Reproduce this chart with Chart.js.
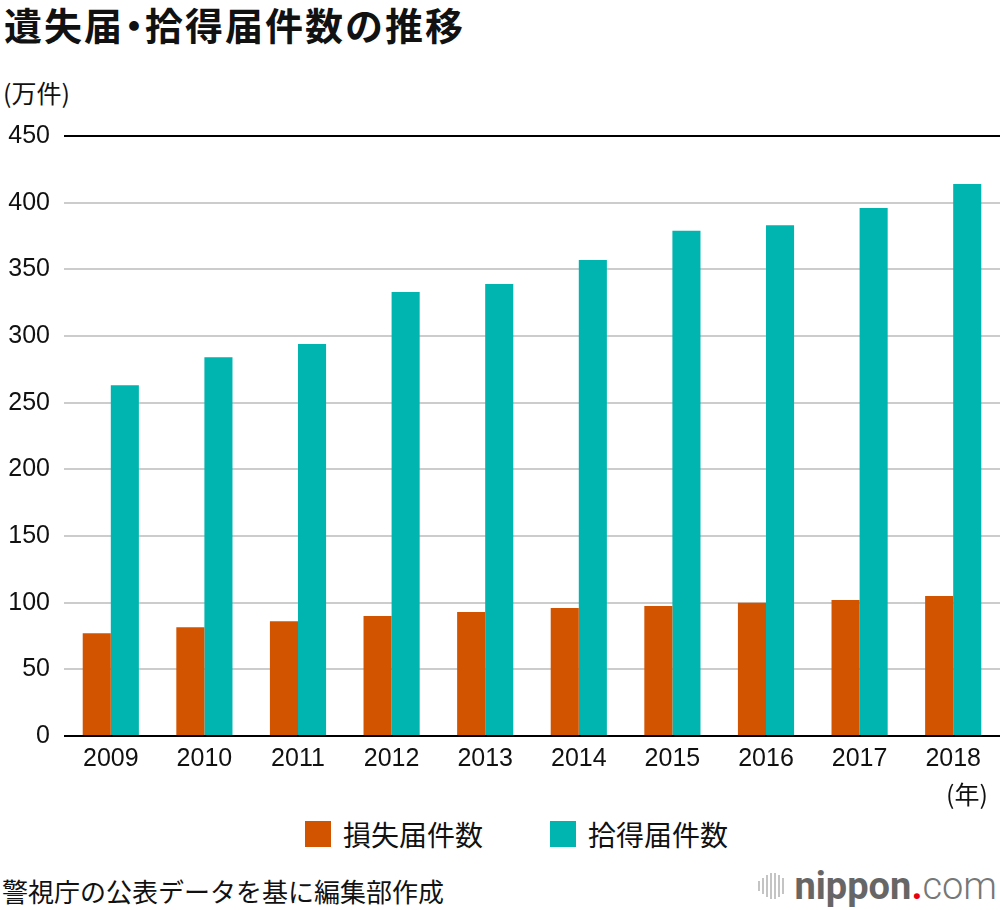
<!DOCTYPE html>
<html lang="ja">
<head>
<meta charset="utf-8">
<script src="https://cdn.jsdelivr.net/npm/chart.js@4.4.1/dist/chart.umd.min.js"></script>
<style>
  html, body { margin:0; padding:0; background:#fff; }
  body { width:1000px; height:910px; position:relative; overflow:hidden;
         font-family:"Noto Sans CJK JP","Liberation Sans",sans-serif; color:#111; }
  #title { position:absolute; left:4px; top:-4px; font-size:38px; font-weight:bold; letter-spacing:2px; white-space:nowrap; }
  #title .dot { display:inline-block; margin:0 -10px 0 -9px; }
  #unit { position:absolute; left:3px; top:74px; font-size:25px; white-space:nowrap; }
  #year { position:absolute; left:946px; top:775px; font-size:25px; white-space:nowrap; }
  #wrap { position:absolute; left:0; top:0; width:1000px; height:790px; }
  #legend { position:absolute; left:305px; top:814px; display:flex; align-items:center; }
  .li { display:flex; align-items:center; margin-right:67px; }
  .box { width:26px; height:26px; margin-right:12px; }
  .lt { font-size:28px; white-space:nowrap; }
  #src { position:absolute; left:2px; top:872px; font-size:26px; white-space:nowrap; }
  #logo { position:absolute; right:3px; top:864px; display:flex; align-items:center; }
  #bars { display:flex; align-items:center; height:30px; margin-right:9px; }
  #bars span { display:block; width:2px; background:#c4c4c4; margin-right:2px; }
  #logo .n { font-family:"Roboto","Liberation Sans",sans-serif; font-weight:700; font-size:38px; color:#666; }
  #logo .d { font-family:"Roboto","Liberation Sans",sans-serif; font-weight:700; font-size:38px; color:#e60012; }
  #logo .c { font-family:"Roboto","Liberation Sans",sans-serif; font-weight:300; font-size:38px; color:#777; }
</style>
</head>
<body>
<div id="title">遺失届<span class="dot">・</span>拾得届件数の推移</div>
<div id="unit">(万件)</div>
<div id="wrap"><canvas id="c" width="1000" height="790" style="width:1000px;height:790px"></canvas></div>
<div id="year">(年)</div>
<div id="legend"></div>
<div id="src">警視庁の公表データを基に編集部作成</div>
<div id="logo"><div id="bars"></div><span class="n">nippon</span><span class="d">.</span><span class="c">com</span></div>
<script>
const years = ["2009","2010","2011","2012","2013","2014","2015","2016","2017","2018"];
const lostReports = [77, 81.5, 86, 90, 93, 96, 97.5, 100, 102, 105];
const foundReports = [263, 284, 294, 333, 339, 357, 379, 383, 396, 414];
const seriesNames = ["損失届件数", "拾得届件数"];
const seriesColors = ["#D35400", "#00B5AF"];
const yTicks = [0, 50, 100, 150, 200, 250, 300, 350, 400, 450];

// logo bars
const barH = [10, 16, 22, 26, 26, 22, 16];
const bw = document.getElementById('bars');
barH.forEach(h => { const s = document.createElement('span'); s.style.height = h + 'px'; bw.appendChild(s); });

const chart = new Chart(document.getElementById('c'), {
  type: 'bar',
  data: {
    labels: years,
    datasets: [
      { label: seriesNames[0], data: lostReports, backgroundColor: seriesColors[0], borderWidth: 0 },
      { label: seriesNames[1], data: foundReports, backgroundColor: seriesColors[1], borderWidth: 0 }
    ]
  },
  options: {
    responsive: false,
    animation: false,
    devicePixelRatio: 1,
    layout: { padding: { top: 136, left: 0, right: 0, bottom: 0 } },
    plugins: { legend: { display: false }, tooltip: { enabled: false } },
    datasets: { bar: { categoryPercentage: 0.6, barPercentage: 1.0 } },
    scales: {
      x: {
        grid: { display: false },
        border: { display: false },
        ticks: { color: '#111', padding: 0, font: { family: '"Liberation Sans", Arial, sans-serif', size: 25 }, maxRotation: 0 },
        afterFit: s => { s.height = 54; }
      },
      y: {
        min: 0, max: 450,
        afterBuildTicks: s => { s.ticks = yTicks.map(v => ({ value: v })); },
        grid: {
          drawTicks: false,
          lineWidth: 2,
          color: c => (c.tick && (c.tick.value === 0 || c.tick.value === 450)) ? '#000' : '#cccccc'
        },
        border: { display: false },
        ticks: { color: '#111', padding: 14, font: { family: '"Liberation Sans", Arial, sans-serif', size: 25 } },
        afterFit: s => { s.width = 64; }
      }
    }
  }
});

const lg = document.getElementById('legend');
seriesNames.forEach((n, i) => {
  const li = document.createElement('div'); li.className = 'li';
  const b = document.createElement('div'); b.className = 'box'; b.style.background = seriesColors[i];
  const t = document.createElement('div'); t.className = 'lt'; t.textContent = n;
  li.appendChild(b); li.appendChild(t); lg.appendChild(li);
});
</script>
</body>
</html>
